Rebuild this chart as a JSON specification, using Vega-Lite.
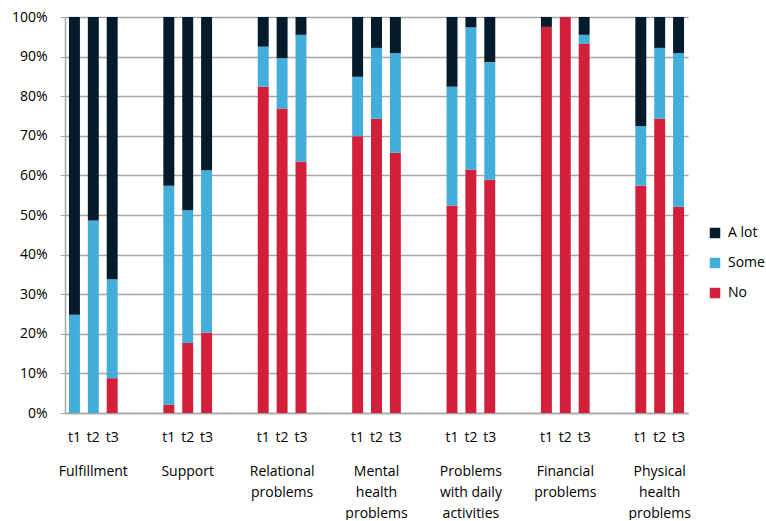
{
  "$schema": "https://vega.github.io/schema/vega-lite/v6.json",
  "width": 623,
  "height": 396,
  "padding": {"left": 11, "top": 10, "right": 0, "bottom": 0},
  "background": "white",
  "config": {
    "font": "Open Sans",
    "view": {"stroke": null}
  },
  "data": {
    "values": [
      {"slot": "Fulfillment|t1", "r": "No", "o": 1, "v": 0},
      {"slot": "Fulfillment|t1", "r": "Some", "o": 2, "v": 24.8},
      {"slot": "Fulfillment|t1", "r": "A lot", "o": 3, "v": 75.2},
      {"slot": "Fulfillment|t2", "r": "No", "o": 1, "v": 0},
      {"slot": "Fulfillment|t2", "r": "Some", "o": 2, "v": 48.6},
      {"slot": "Fulfillment|t2", "r": "A lot", "o": 3, "v": 51.4},
      {"slot": "Fulfillment|t3", "r": "No", "o": 1, "v": 8.8},
      {"slot": "Fulfillment|t3", "r": "Some", "o": 2, "v": 25},
      {"slot": "Fulfillment|t3", "r": "A lot", "o": 3, "v": 66.2},
      {"slot": "Support|t1", "r": "No", "o": 1, "v": 2.1},
      {"slot": "Support|t1", "r": "Some", "o": 2, "v": 55.3},
      {"slot": "Support|t1", "r": "A lot", "o": 3, "v": 42.6},
      {"slot": "Support|t2", "r": "No", "o": 1, "v": 17.7},
      {"slot": "Support|t2", "r": "Some", "o": 2, "v": 33.5},
      {"slot": "Support|t2", "r": "A lot", "o": 3, "v": 48.8},
      {"slot": "Support|t3", "r": "No", "o": 1, "v": 20.3},
      {"slot": "Support|t3", "r": "Some", "o": 2, "v": 41},
      {"slot": "Support|t3", "r": "A lot", "o": 3, "v": 38.7},
      {"slot": "Relational~problems|t1", "r": "No", "o": 1, "v": 82.4},
      {"slot": "Relational~problems|t1", "r": "Some", "o": 2, "v": 10.1},
      {"slot": "Relational~problems|t1", "r": "A lot", "o": 3, "v": 7.5},
      {"slot": "Relational~problems|t2", "r": "No", "o": 1, "v": 76.9},
      {"slot": "Relational~problems|t2", "r": "Some", "o": 2, "v": 12.7},
      {"slot": "Relational~problems|t2", "r": "A lot", "o": 3, "v": 10.4},
      {"slot": "Relational~problems|t3", "r": "No", "o": 1, "v": 63.5},
      {"slot": "Relational~problems|t3", "r": "Some", "o": 2, "v": 32},
      {"slot": "Relational~problems|t3", "r": "A lot", "o": 3, "v": 4.5},
      {"slot": "Mental~health~problems|t1", "r": "No", "o": 1, "v": 69.9},
      {"slot": "Mental~health~problems|t1", "r": "Some", "o": 2, "v": 15},
      {"slot": "Mental~health~problems|t1", "r": "A lot", "o": 3, "v": 15.1},
      {"slot": "Mental~health~problems|t2", "r": "No", "o": 1, "v": 74.3},
      {"slot": "Mental~health~problems|t2", "r": "Some", "o": 2, "v": 17.9},
      {"slot": "Mental~health~problems|t2", "r": "A lot", "o": 3, "v": 7.8},
      {"slot": "Mental~health~problems|t3", "r": "No", "o": 1, "v": 65.7},
      {"slot": "Mental~health~problems|t3", "r": "Some", "o": 2, "v": 25.2},
      {"slot": "Mental~health~problems|t3", "r": "A lot", "o": 3, "v": 9.1},
      {"slot": "Problems~with daily~activities|t1", "r": "No", "o": 1, "v": 52.4},
      {"slot": "Problems~with daily~activities|t1", "r": "Some", "o": 2, "v": 30},
      {"slot": "Problems~with daily~activities|t1", "r": "A lot", "o": 3, "v": 17.6},
      {"slot": "Problems~with daily~activities|t2", "r": "No", "o": 1, "v": 61.4},
      {"slot": "Problems~with daily~activities|t2", "r": "Some", "o": 2, "v": 36},
      {"slot": "Problems~with daily~activities|t2", "r": "A lot", "o": 3, "v": 2.6},
      {"slot": "Problems~with daily~activities|t3", "r": "No", "o": 1, "v": 58.9},
      {"slot": "Problems~with daily~activities|t3", "r": "Some", "o": 2, "v": 29.7},
      {"slot": "Problems~with daily~activities|t3", "r": "A lot", "o": 3, "v": 11.4},
      {"slot": "Financial~problems|t1", "r": "No", "o": 1, "v": 97.5},
      {"slot": "Financial~problems|t1", "r": "Some", "o": 2, "v": 0},
      {"slot": "Financial~problems|t1", "r": "A lot", "o": 3, "v": 2.5},
      {"slot": "Financial~problems|t2", "r": "No", "o": 1, "v": 100},
      {"slot": "Financial~problems|t2", "r": "Some", "o": 2, "v": 0},
      {"slot": "Financial~problems|t2", "r": "A lot", "o": 3, "v": 0},
      {"slot": "Financial~problems|t3", "r": "No", "o": 1, "v": 93.2},
      {"slot": "Financial~problems|t3", "r": "Some", "o": 2, "v": 2.3},
      {"slot": "Financial~problems|t3", "r": "A lot", "o": 3, "v": 4.5},
      {"slot": "Physical~health~problems|t1", "r": "No", "o": 1, "v": 57.4},
      {"slot": "Physical~health~problems|t1", "r": "Some", "o": 2, "v": 15},
      {"slot": "Physical~health~problems|t1", "r": "A lot", "o": 3, "v": 27.6},
      {"slot": "Physical~health~problems|t2", "r": "No", "o": 1, "v": 74.3},
      {"slot": "Physical~health~problems|t2", "r": "Some", "o": 2, "v": 17.9},
      {"slot": "Physical~health~problems|t2", "r": "A lot", "o": 3, "v": 7.8},
      {"slot": "Physical~health~problems|t3", "r": "No", "o": 1, "v": 52.1},
      {"slot": "Physical~health~problems|t3", "r": "Some", "o": 2, "v": 38.8},
      {"slot": "Physical~health~problems|t3", "r": "A lot", "o": 3, "v": 9.1}
    ]
  },
  "layer": [
    {
      "mark": {"type": "bar"},
      "encoding": {
        "x": {
          "field": "slot",
          "type": "nominal",
          "scale": {
            "domain": [
              "Fulfillment|t1", "Fulfillment|t2", "Fulfillment|t3", "g1a", "g1b",
              "Support|t1", "Support|t2", "Support|t3", "g2a", "g2b",
              "Relational~problems|t1", "Relational~problems|t2", "Relational~problems|t3", "g3a", "g3b",
              "Mental~health~problems|t1", "Mental~health~problems|t2", "Mental~health~problems|t3", "g4a", "g4b",
              "Problems~with daily~activities|t1", "Problems~with daily~activities|t2", "Problems~with daily~activities|t3", "g5a", "g5b",
              "Financial~problems|t1", "Financial~problems|t2", "Financial~problems|t3", "g6a", "g6b",
              "Physical~health~problems|t1", "Physical~health~problems|t2", "Physical~health~problems|t3"
            ],
            "paddingInner": 0.42,
            "paddingOuter": 0.21
          },
          "axis": {
            "title": null,
            "orient": "bottom",
            "labelExpr": "indexof(datum.value, '|') >= 0 ? split(datum.value, '|')[1] : ''",
            "labelAngle": 0,
            "labelFontSize": 14,
            "labelColor": "#000000",
            "labelPadding": 17,
            "ticks": false,
            "domainColor": "#a6a6a6",
            "domainWidth": 1.5,
            "grid": false
          }
        },
        "y": {
          "field": "v",
          "type": "quantitative",
          "stack": "zero",
          "scale": {"domain": [0, 100], "nice": false},
          "axis": {
            "title": null,
            "values": [0, 10, 20, 30, 40, 50, 60, 70, 80, 90, 100],
            "labelExpr": "datum.value + '%'",
            "labelFontSize": 14,
            "labelColor": "#000000",
            "labelPadding": 13,
            "tickSize": 5,
            "tickColor": "#a6a6a6",
            "domainColor": "#a6a6a6",
            "domainWidth": 1.5,
            "gridColor": "#a6a6a6",
            "gridWidth": 1.3
          }
        },
        "color": {
          "field": "r",
          "type": "nominal",
          "scale": {
            "domain": ["A lot", "Some", "No"],
            "range": ["#041b2b", "#43aed9", "#d2203a"]
          },
          "legend": {
            "title": null,
            "orient": "none",
            "legendX": 643,
            "legendY": 209,
            "symbolType": "square",
            "symbolSize": 110,
            "symbolStrokeWidth": 0,
            "labelFontSize": 14,
            "labelColor": "#000000",
            "rowPadding": 16,
            "labelOffset": 6
          }
        },
        "order": {"field": "o", "type": "quantitative", "sort": "ascending"}
      }
    },
    {
      "mark": {"type": "rule", "opacity": 0},
      "encoding": {
        "x": {
          "field": "slot",
          "type": "nominal",
          "axis": {
            "title": null,
            "orient": "bottom",
            "labelExpr": "indexof(datum.value, '|t2') >= 0 ? split(split(datum.value, '|')[0], '~') : ''",
            "labelAngle": 0,
            "labelFontSize": 14,
            "labelColor": "#000000",
            "labelPadding": 51,
            "labelLineHeight": 21,
            "labelOverlap": false,
            "ticks": false,
            "domain": false,
            "grid": false
          }
        }
      }
    }
  ],
  "resolve": {"axis": {"x": "independent"}}
}
